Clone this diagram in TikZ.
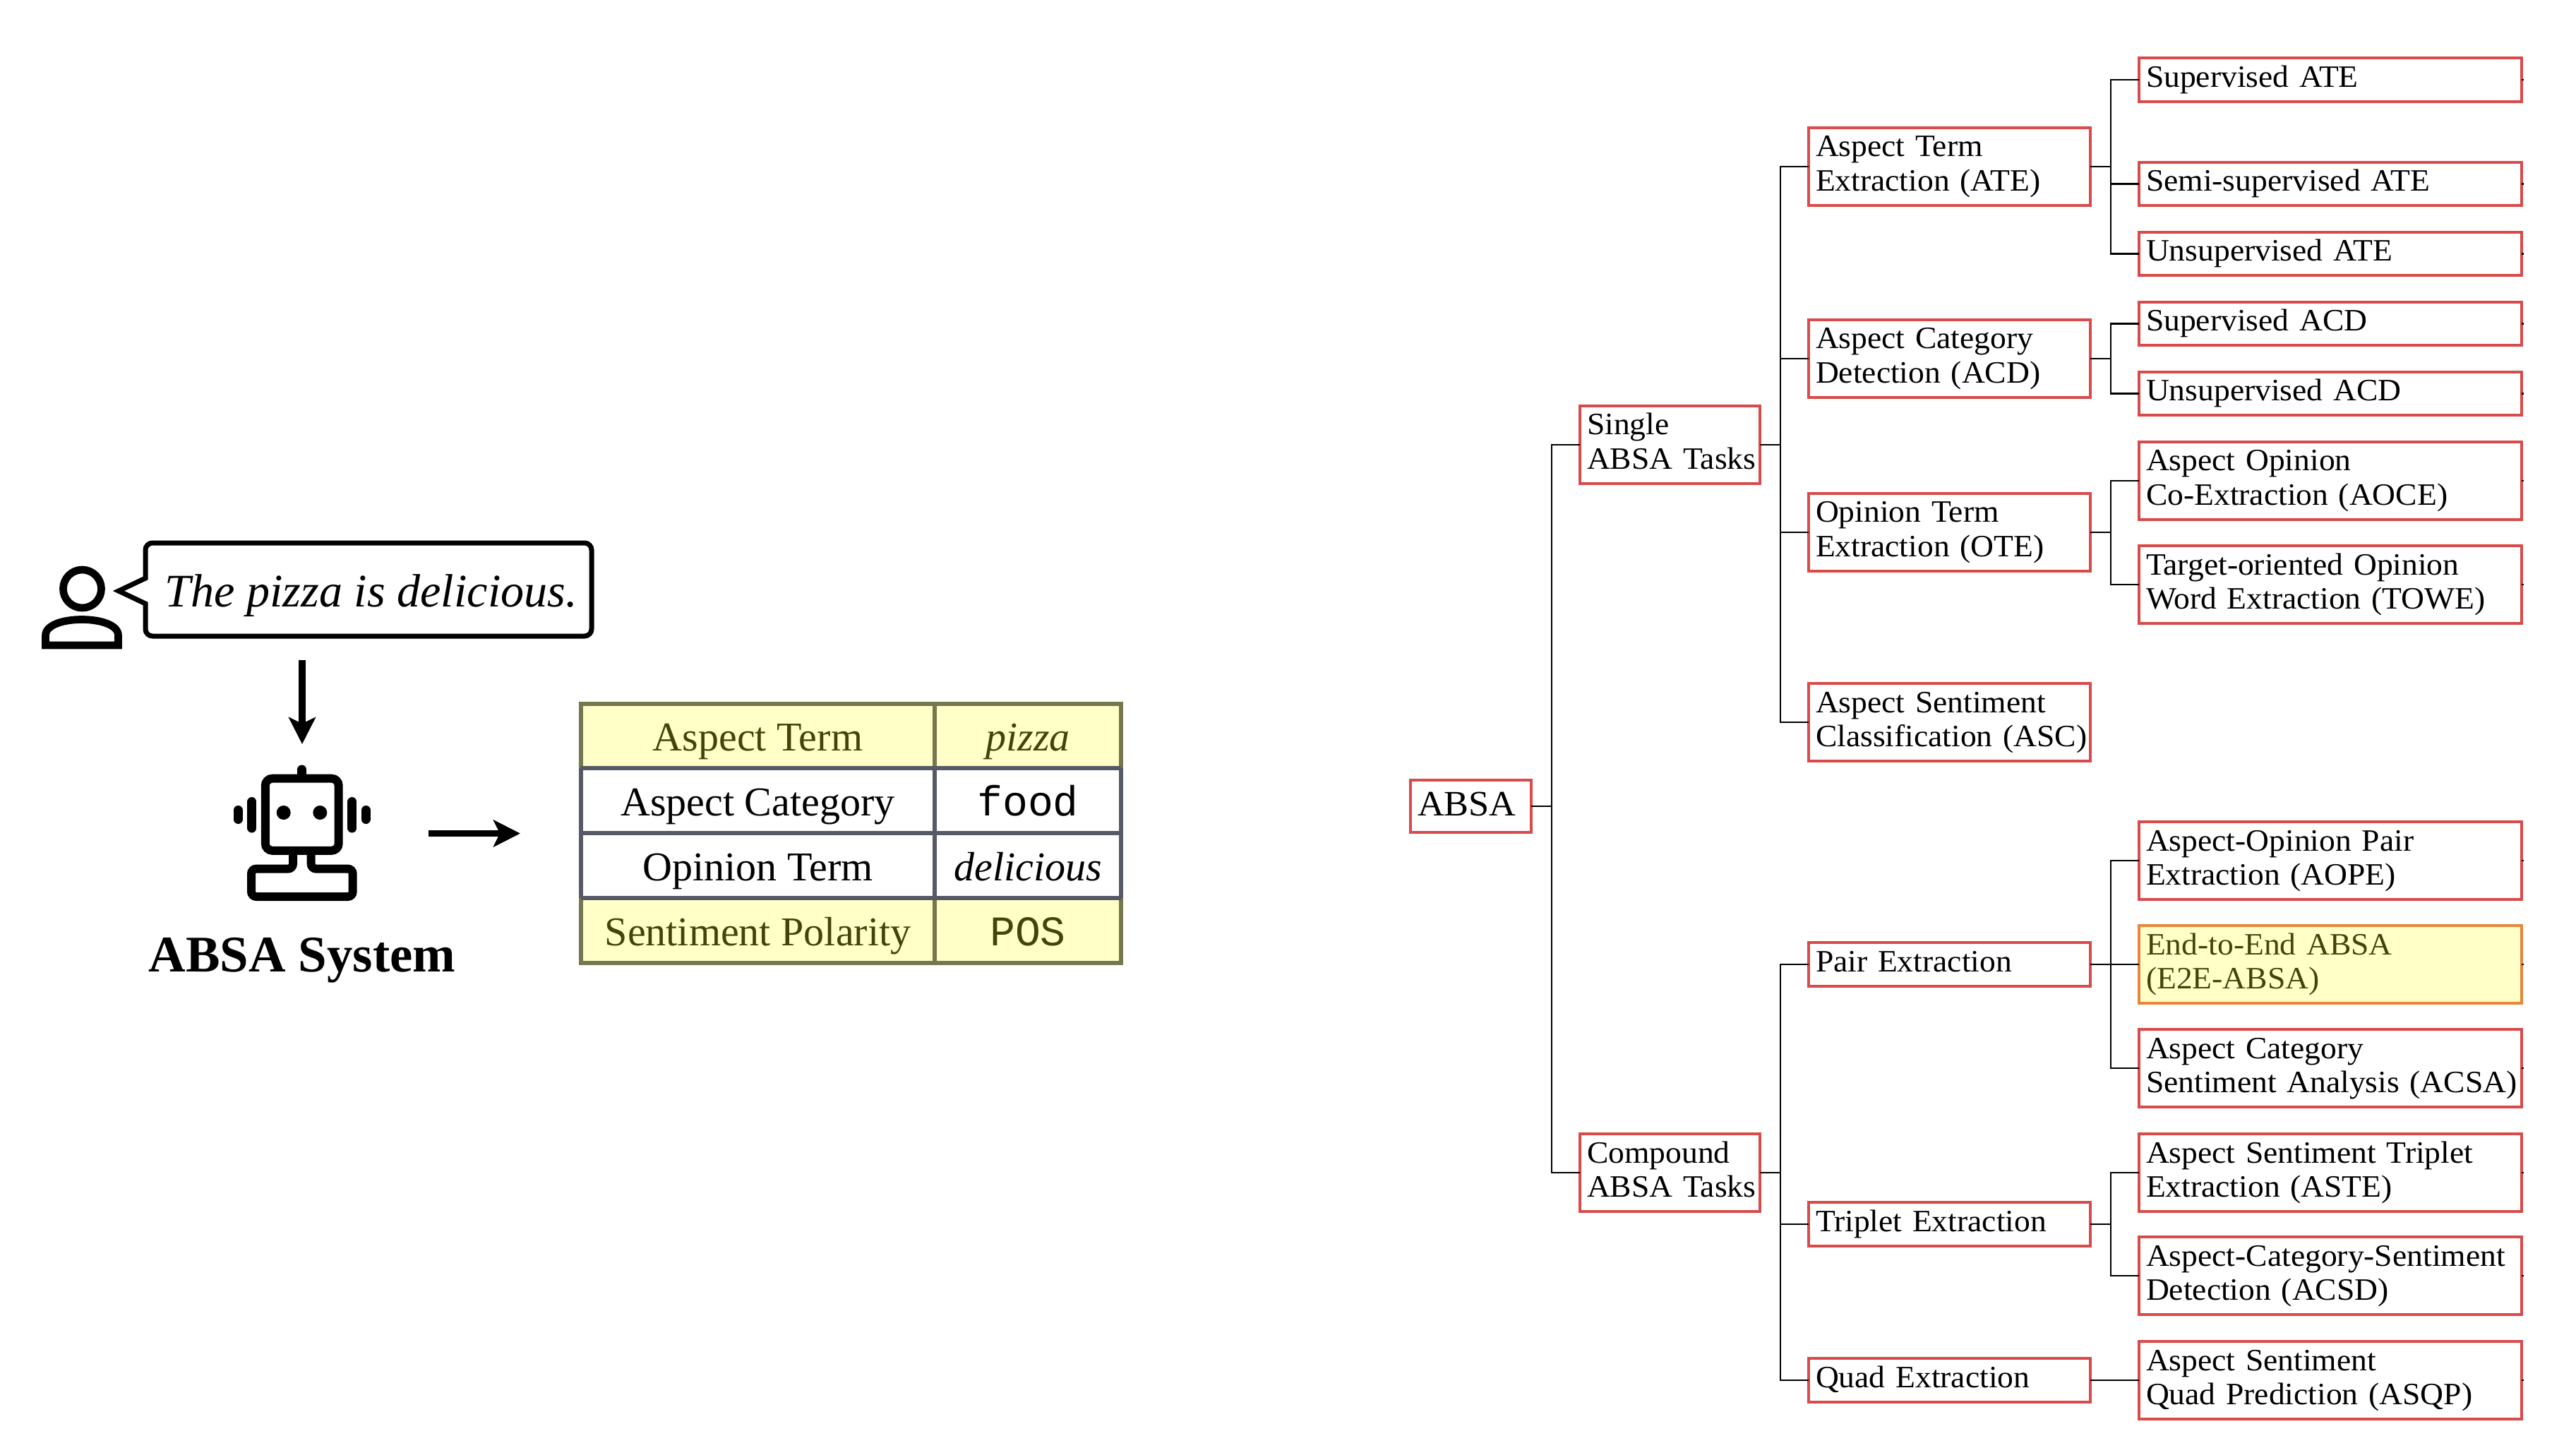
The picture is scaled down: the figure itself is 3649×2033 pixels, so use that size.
\documentclass[tikz,border=0pt]{standalone}
\usepackage{fontspec}
\usetikzlibrary{arrows.meta}
\setmainfont{Liberation Serif}
\setmonofont{Liberation Mono}
\newfontfamily\treefam[FakeStretch=1.035]{Liberation Serif}
\newdimen\PX \PX=0.01cm
\definecolor{boxred}{HTML}{D94A4A}
\definecolor{paleyellow}{HTML}{FFFFC8}
\definecolor{olivetext}{HTML}{44440A}
\definecolor{oliveline}{HTML}{76764F}
\definecolor{slateline}{HTML}{565A66}
\definecolor{e2eline}{HTML}{E8853A}
\tikzset{
  treebox/.style={draw=boxred,fill=white,line width=3.5\PX,inner xsep=10\PX,inner ysep=0pt,outer sep=0pt,
    align=left,font=\treefam\fontsize{12.52}{13.66}\selectfont},
  e2ebox/.style={draw=e2eline,fill=paleyellow,text=olivetext},
  fork/.style={to path={-- ++(29,0) |- (\tikztotarget)}},
  conn/.style={line width=2.8\PX,black},
  iconline/.style={line width=#1\PX,black},
  cell/.style={inner sep=0pt,outer sep=0pt,text height=15pt,text depth=3.05pt,align=center,
    font=\fontsize{16.5}{18}\selectfont},
  ycell/.style={cell,fill=paleyellow,text=olivetext},
  wcell/.style={cell,fill=white,text=black},
  monocell/.style={font=\ttfamily\fontsize{17}{18}\selectfont},
  arrowtip/.style={-{Stealth[length=10.8pt,width=10.8pt,inset=2.56pt]}}
}
\newcommand\bx[7][]{\node[treebox,#1,minimum width={(#5-#3)*\PX},minimum height={(#6-#4)*\PX},
  text width={(#5-#3-20)*\PX}] (#2) at ({(#3+#5)/2},{(#4+#6)/2}) {\rule{0pt}{10.24pt}#7\rule[-4.55pt]{0pt}{4.55pt}};}
\begin{document}
\begin{tikzpicture}[x=0.01cm,y=-0.01cm]
\useasboundingbox (0,0) rectangle (3649,2033);
% ---- speech bubble
\draw[iconline=7,miter limit=10] (206,819) [rounded corners=10\PX] -- (206,769) -- (838,769) -- (838,901) -- (206,901) [sharp corners] -- (206,855) -- (168,837) -- cycle;
\node[anchor=base west,inner sep=0pt,font=\itshape\fontsize{18.8}{22}\selectfont] (sentence) at (233,859) {The pizza is delicious.};
% ---- person
\draw[iconline=10.7] (116.5,834) circle[radius=27\PX];
\draw[iconline=10.7] (64.5,914) -- (64.5,900) .. controls (64.5,885) and (90,877.5) .. (116,877.5) .. controls (142,877.5) and (167.5,885) .. (167.5,900) -- (167.5,914) -- cycle;
% ---- arrows
\coordinate (downstart) at (428,935);
\coordinate (downend) at (428,1054);
\coordinate (rightstart) at (607,1180.5);
\coordinate (rightend) at (737,1180.5);
\draw[iconline=10,arrowtip] (downstart) -- (downend);
\draw[iconline=9,arrowtip] (rightstart) -- (rightend);
% ---- robot
\draw[iconline=13,line cap=round] (427.7,1090) -- (427.7,1103);
\draw[iconline=12,rounded corners=10\PX,fill=white] (375.8,1102.7) rectangle (479.7,1204.8);
\fill (401.7,1151) circle[radius=10\PX];
\fill (453.3,1151) circle[radius=10\PX];
\draw[iconline=13,line cap=round] (356.9,1135.5) -- (356.9,1173);
\draw[iconline=13,line cap=round] (498.9,1135.5) -- (498.9,1173);
\draw[iconline=13,line cap=round] (337.4,1147.5) -- (337.4,1160.5);
\draw[iconline=13,line cap=round] (518.4,1147.5) -- (518.4,1160.5);
\draw[iconline=12,rounded corners=7\PX] (415,1205) -- (415,1230.6) -- (356,1230.6) -- (356,1270) -- (499.7,1270) -- (499.7,1230.6) -- (440.7,1230.6) -- (440.7,1205);
\node[anchor=base,inner sep=0pt,font=\bfseries\fontsize{20.7}{24}\selectfont] (system) at (428,1376) {ABSA System};
% ---- table
\node[ycell,minimum width=501\PX,minimum height=91\PX] (t11) at (1073.5,1042.5) {Aspect Term};
\node[ycell,minimum width=264\PX,minimum height=91\PX] (t12) at (1456,1042.5) {\itshape pizza};
\node[wcell,minimum width=501\PX,minimum height=92\PX] (t21) at (1073.5,1134) {Aspect Category};
\node[wcell,monocell,minimum width=264\PX,minimum height=92\PX] (t22) at (1456,1134) {food};
\node[wcell,minimum width=501\PX,minimum height=92\PX] (t31) at (1073.5,1226) {Opinion Term};
\node[wcell,minimum width=264\PX,minimum height=92\PX] (t32) at (1456,1226) {\itshape delicious};
\node[ycell,minimum width=501\PX,minimum height=92\PX] (t41) at (1073.5,1318) {Sentiment Polarity};
\node[ycell,monocell,minimum width=264\PX,minimum height=92\PX] (t42) at (1456,1318) {POS};
\draw[line width=6\PX,oliveline] (t11.south west) -- (t11.north west) -- (t12.north east) -- (t12.south east);
\draw[line width=6\PX,oliveline] (t11.north east) -- (t11.south east);
\draw[line width=6\PX,oliveline] (t41.north west) -- (t41.south west) -- (t42.south east) -- (t42.north east);
\draw[line width=6\PX,oliveline] (t41.north east) -- (t41.south east);
\draw[line width=6\PX,slateline] (t21.north west) -- (t31.south west);
\draw[line width=6\PX,slateline] (t22.north east) -- (t32.south east);
\draw[line width=6\PX,slateline] (t21.north east) -- (t31.south east);
\draw[line width=6\PX,slateline] (t21.north west) -- (t22.north east);
\draw[line width=6\PX,slateline] (t21.south west) -- (t22.south east);
\draw[line width=6\PX,slateline] (t31.south west) -- (t32.south east);
% ---- tree
\node[treebox,minimum width=171\PX,minimum height=74\PX,text width=151\PX,font=\treefam\fontsize{14.4}{16}\selectfont,text height=11.4pt,text depth=4pt] (absa) at (2083.5,1142) {ABSA};
\bx{single}{2238}{575}{2493}{685}{Single\\\mbox{ABSA Tasks}}
\bx{compound}{2238}{1606}{2493}{1716}{Compound\\\mbox{ABSA Tasks}}
\bx{ate}{2562}{181}{2961}{291}{Aspect Term\\Extraction (ATE)}
\bx{acd}{2562}{453}{2961}{563}{Aspect Category\\Detection (ACD)}
\bx{ote}{2562}{699}{2961}{809}{Opinion Term\\Extraction (OTE)}
\bx{asc}{2562}{968}{2961}{1078}{Aspect Sentiment\\\mbox{Classification (ASC)}}
\bx{pair}{2562}{1335}{2961}{1397}{Pair Extraction}
\bx{triplet}{2562}{1703}{2961}{1765}{Triplet Extraction}
\bx{quad}{2562}{1924}{2961}{1986}{Quad Extraction}
\bx{supate}{3030}{82}{3572}{144}{Supervised ATE}
\bx{semiate}{3030}{230}{3572}{291}{Semi-supervised ATE}
\bx{unsate}{3030}{329}{3572}{390}{Unsupervised ATE}
\bx{supacd}{3030}{428}{3572}{489}{Supervised ACD}
\bx{unsacd}{3030}{527}{3572}{588}{Unsupervised ACD}
\bx{aoce}{3030}{626}{3572}{736}{Aspect Opinion\\Co-Extraction (AOCE)}
\bx{towe}{3030}{773}{3572}{883}{Target-oriented Opinion\\Word Extraction (TOWE)}
\bx{aope}{3030}{1164}{3572}{1274}{Aspect-Opinion Pair\\Extraction (AOPE)}
\bx[e2ebox]{e2e}{3030}{1311}{3572}{1421}{End-to-End ABSA\\(E2E-ABSA)}
\bx{acsa}{3030}{1458}{3572}{1568}{Aspect Category\\\mbox{Sentiment Analysis (ACSA)}}
\bx{aste}{3030}{1606}{3572}{1716}{Aspect Sentiment Triplet\\Extraction (ASTE)}
\bx{acsd}{3030}{1752}{3572}{1862}{\mbox{Aspect-Category-Sentiment}\\Detection (ACSD)}
\bx{asqp}{3030}{1900}{3572}{2010}{Aspect Sentiment\\Quad Prediction (ASQP)}
% ---- connectors
\foreach \p/\c in {absa/single,absa/compound,
  single/ate,single/acd,single/ote,single/asc,
  compound/pair,compound/triplet,compound/quad,
  ate/supate,ate/semiate,ate/unsate,
  acd/supacd,acd/unsacd,
  ote/aoce,ote/towe,
  pair/aope,pair/e2e,pair/acsa,
  triplet/aste,triplet/acsd,
  quad/asqp}{
  \draw[conn] (\p.east) to[fork] (\c.west);
}
\foreach \c in {supate,semiate,unsate,supacd,unsacd,aoce,towe,aope,e2e,acsa,aste,acsd,asqp}{
  \draw[conn] (\c.east) -- ++(3,0);
}
\end{tikzpicture}
\end{document}
